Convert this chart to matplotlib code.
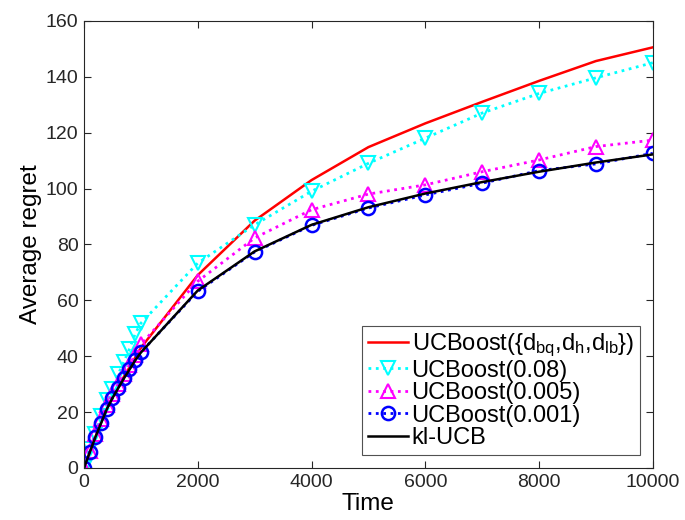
import numpy as np
import matplotlib
matplotlib.use("Agg")
import matplotlib.pyplot as plt

plt.rcParams['font.family'] = ['Liberation Sans', 'DejaVu Sans']
plt.rcParams['mathtext.fontset'] = 'custom'
plt.rcParams['mathtext.rm'] = 'Liberation Sans'
plt.rcParams['mathtext.it'] = 'Liberation Sans'

# Time steps
t = [0, 100, 200, 300, 400, 500, 600, 700, 800, 900, 1000,
     2000, 3000, 4000, 5000, 6000, 7000, 8000, 9000, 10000]

# Average regret per algorithm
ucb_set = [0, 5.6, 11, 16.2, 21.2, 25.2, 29, 32.6, 36, 39.5, 43,
           69, 88.5, 103, 114.8, 123.3, 131, 138.5, 145.6, 150.5]
ucb_008 = [0, 6.7, 12.3, 18.6, 24.2, 28.3, 33.5, 37.9, 42.6, 48, 51.8,
           73.3, 87, 99, 109, 118, 127, 134, 139.6, 145]
ucb_0005 = [0, 6, 12, 17.5, 22.5, 26.5, 30, 33.5, 37, 40.5, 44.2,
            66.8, 82.3, 92.4, 98, 101.3, 106, 110.2, 115, 117.3]
ucb_0001 = [0, 5.7, 11.1, 16.2, 21.2, 25, 28.7, 32.1, 35.5, 38.7, 41.4,
            63.2, 77.3, 86.8, 93, 97.7, 101.9, 106.4, 108.8, 112.6]
kl_ucb = [0, 5.5, 11, 16, 21, 25, 28.5, 32, 35.2, 38.5, 41.3,
          63.5, 77.5, 87, 93.3, 98.2, 102.3, 106, 109.3, 112.2]

fig = plt.figure(figsize=(6.85, 5.2), dpi=100)
ax = fig.add_axes([0.1226, 0.1, 0.8304, 0.86])

ax.plot(t, ucb_set, '-', color='red', lw=1.8,
        label=r'UCBoost({d$_{\mathrm{bq}}$,d$_{\mathrm{h}}$,d$_{\mathrm{lb}}$})')
ax.plot(t, ucb_008, ':', color='cyan', lw=2, marker='v', ms=10.5,
        mfc='none', mew=1.5, label='UCBoost(0.08)')
ax.plot(t, ucb_0005, ':', color='magenta', lw=2, marker='^', ms=10.5,
        mfc='none', mew=1.5, label='UCBoost(0.005)')
ax.plot(t, ucb_0001, ':', color='blue', lw=2, marker='o', ms=9.5,
        mfc='none', mew=1.8, label='UCBoost(0.001)')
ax.plot(t, kl_ucb, '-', color='black', lw=1.8, label='kl-UCB')

ax.set_xlim(0, 10000)
ax.set_ylim(0, 160)
ax.set_xticks([0, 2000, 4000, 6000, 8000, 10000])
ax.set_yticks(np.arange(0, 161, 20))
ax.tick_params(direction='in', top=True, right=True, labelsize=14,
               length=5, width=0.8, colors='#262626', pad=4)
for s in ax.spines.values():
    s.set_color('#262626')
    s.set_linewidth(0.8)

ax.set_xlabel('Time', fontsize=17.5, labelpad=2)
ax.set_ylabel('Average regret', fontsize=17.5, labelpad=3)

leg = ax.legend(loc='lower right', fontsize=17, frameon=True, fancybox=False,
                edgecolor='#262626', handlelength=1.7, handletextpad=0.15,
                labelspacing=0.02, borderpad=0.25, borderaxespad=0.55)
leg.get_frame().set_linewidth(0.8)

fig.savefig('out.png', dpi=100)
